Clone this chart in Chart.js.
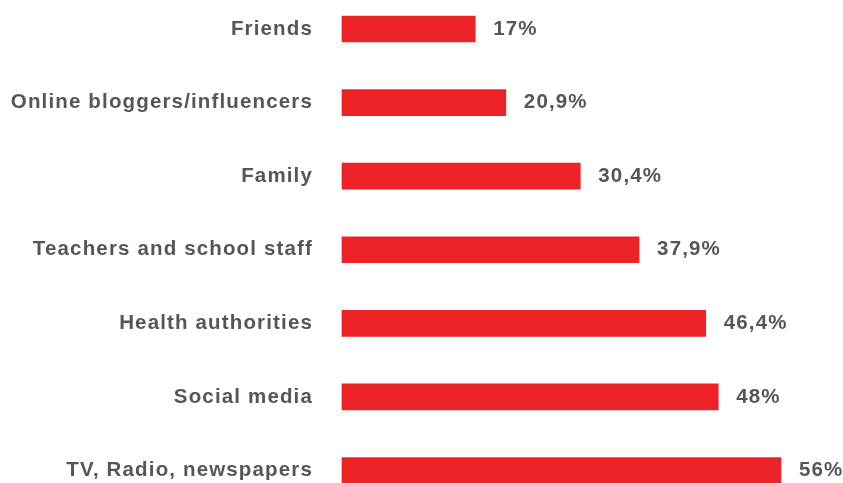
<!DOCTYPE html>
<html>
<head>
<meta charset="utf-8">
<script src="https://cdn.jsdelivr.net/npm/chart.js@4"></script>
<style>
  html, body { margin: 0; padding: 0; background: #ffffff; }
  #wrap { width: 843px; height: 483px; position: relative; }
</style>
</head>
<body>
<div id="wrap"><canvas id="c"></canvas></div>
<script>
const categories = [
  'Friends',
  'Online bloggers/influencers',
  'Family',
  'Teachers and school staff',
  'Health authorities',
  'Social media',
  'TV, Radio, newspapers'
];
const values = [17, 20.9, 30.4, 37.9, 46.4, 48, 56];

const barColor = '#ED2227';
const textColor = '#555658';
const fontFamily = '"Liberation Sans", Arial, Helvetica, sans-serif';
const letterSpacing = '1.15px';

const spacing = {
  id: 'spacing',
  beforeUpdate(chart) { chart.ctx.letterSpacing = letterSpacing; },
  beforeLayout(chart) { chart.ctx.letterSpacing = letterSpacing; },
  beforeDraw(chart) { chart.ctx.letterSpacing = letterSpacing; }
};

const valueLabels = {
  id: 'valueLabels',
  afterDatasetsDraw(chart) {
    const ctx = chart.ctx;
    const meta = chart.getDatasetMeta(0);
    ctx.save();
    ctx.letterSpacing = letterSpacing;
    ctx.fillStyle = textColor;
    ctx.font = 'bold 20.5px ' + fontFamily;
    ctx.textAlign = 'left';
    ctx.textBaseline = 'middle';
    meta.data.forEach((bar, i) => {
      const txt = String(values[i]).replace('.', ',') + '%';
      ctx.fillText(txt, bar.x + 18, bar.y);
    });
    ctx.restore();
  }
};

new Chart(document.getElementById('c'), {
  type: 'bar',
  data: {
    labels: categories,
    datasets: [{
      data: values,
      backgroundColor: barColor,
      borderWidth: 0,
      barThickness: 26,
      clip: false
    }]
  },
  options: {
    indexAxis: 'y',
    responsive: true,
    maintainAspectRatio: false,
    animation: false,
    layout: { padding: { top: 29, bottom: 12.5, left: 0, right: 15 } },
    plugins: { legend: { display: false }, tooltip: { enabled: false } },
    scales: {
      x: {
        min: 0, max: 62,
        display: false,
        grid: { display: false }
      },
      y: {
        offset: false,
        grid: { display: false, drawTicks: false },
        border: { display: false },
        afterFit(scale) {
          scale.width = 342;
          scale.paddingTop = 0;
          scale.paddingBottom = 0;
        },
        ticks: {
          padding: 29,
          color: textColor,
          font: { family: fontFamily, size: 20.5, weight: 'bold' }
        }
      }
    }
  },
  plugins: [spacing, valueLabels]
});
</script>
</body>
</html>
